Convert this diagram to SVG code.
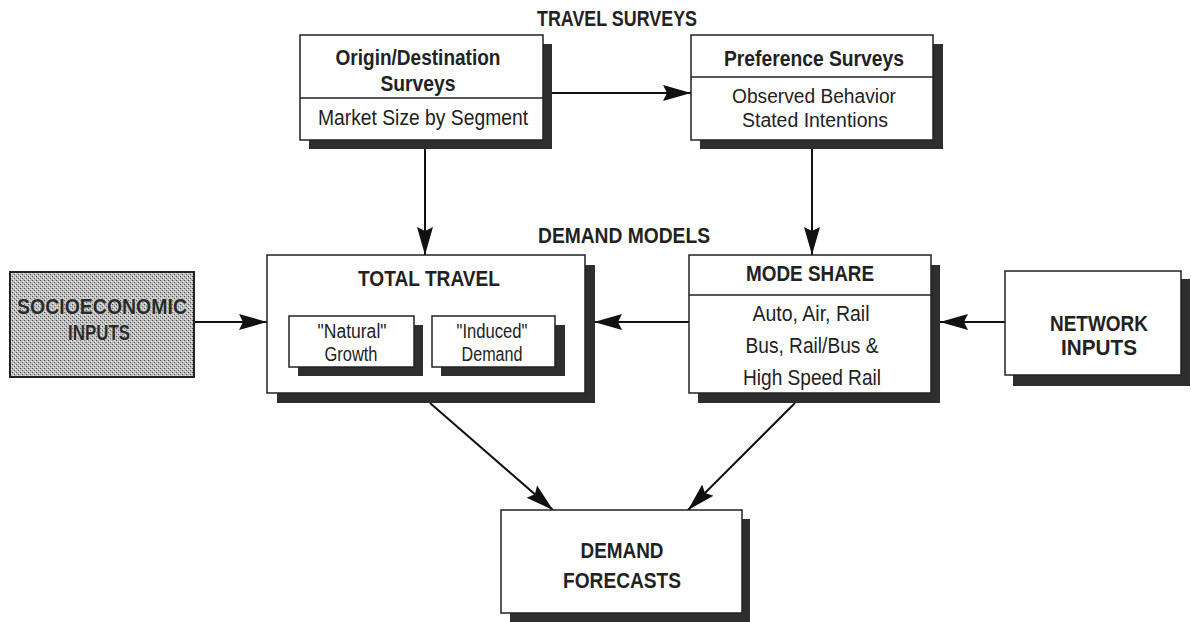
<svg xmlns="http://www.w3.org/2000/svg" width="1191" height="622" viewBox="0 0 1191 622">
<style>
text{font-family:"Liberation Sans",Arial,sans-serif;fill:#222;text-anchor:middle;font-size:22px}
.b{font-weight:bold}
.box{fill:#fff;stroke:#222;stroke-width:1.5}
.sh{fill:#2e2e2e}
.ln{stroke:#111;stroke-width:2;fill:none}
.dv{stroke:#222;stroke-width:1.5}
.so{fill:#2a2a2a;stroke:#e0e0e0;stroke-width:1;paint-order:stroke;font-size:22px}
.sm{font-size:20px}
</style>
<defs>
<marker id="ah" markerWidth="28" markerHeight="18" refX="28" refY="9" orient="auto" markerUnits="userSpaceOnUse">
<path d="M0,1 L28,9 L0,17 L4,9 Z" fill="#111"/>
</marker>
<pattern id="dots" width="4" height="4" patternUnits="userSpaceOnUse">
<rect width="4" height="4" fill="#bdbdbd"/>
<rect x="0" y="0" width="1" height="1" fill="#4a4a4a"/>
<rect x="2" y="2" width="1" height="1" fill="#5a5a5a"/>
<rect x="3" y="1" width="1" height="1" fill="#eee"/>
<rect x="1" y="3" width="1" height="1" fill="#eee"/>
</pattern>
</defs>

<text class="b" x="617" y="26" textLength="160" lengthAdjust="spacingAndGlyphs">TRAVEL SURVEYS</text>
<text class="b" x="624" y="243" textLength="172" lengthAdjust="spacingAndGlyphs">DEMAND MODELS</text>

<g id="connectors">
<line class="ln" x1="552" y1="93" x2="691" y2="93" marker-end="url(#ah)"/>
<line class="ln" x1="425" y1="149" x2="425" y2="255" marker-end="url(#ah)"/>
<line class="ln" x1="812" y1="140" x2="812" y2="255" marker-end="url(#ah)"/>
<line class="ln" x1="194" y1="322" x2="267" y2="322" marker-end="url(#ah)"/>
<line class="ln" x1="689" y1="322" x2="594" y2="322" marker-end="url(#ah)"/>
<line class="ln" x1="1005" y1="322" x2="940" y2="322" marker-end="url(#ah)"/>
<line class="ln" x1="430" y1="403" x2="553" y2="510" marker-end="url(#ah)"/>
<line class="ln" x1="795" y1="403" x2="688" y2="510" marker-end="url(#ah)"/>
</g>

<g id="od">
<rect class="sh" x="309" y="44" width="243" height="105"/>
<rect class="box" x="300" y="35" width="243" height="105"/>
<line class="dv" x1="300" y1="98" x2="543" y2="98"/>
<text class="b" x="418" y="65" textLength="165" lengthAdjust="spacingAndGlyphs">Origin/Destination</text>
<text class="b" x="418" y="91" textLength="75" lengthAdjust="spacingAndGlyphs">Surveys</text>
<text x="423" y="125" textLength="210" lengthAdjust="spacingAndGlyphs">Market Size by Segment</text>
</g>

<g id="pref">
<rect class="sh" x="700" y="44" width="243" height="105"/>
<rect class="box" x="691" y="35" width="242" height="105"/>
<line class="dv" x1="691" y1="77" x2="933" y2="77"/>
<text class="b" x="814" y="66" textLength="180" lengthAdjust="spacingAndGlyphs">Preference Surveys</text>
<text class="sm" x="814" y="103" textLength="164" lengthAdjust="spacingAndGlyphs">Observed Behavior</text>
<text class="sm" x="815" y="127" textLength="146" lengthAdjust="spacingAndGlyphs">Stated Intentions</text>
</g>

<g id="socio">
<rect x="10" y="272" width="184" height="105" fill="url(#dots)" stroke="#222" stroke-width="2"/>
<text class="b so" x="102" y="314" textLength="170" lengthAdjust="spacingAndGlyphs">SOCIOECONOMIC</text>
<text class="b so" x="99" y="340" textLength="62" lengthAdjust="spacingAndGlyphs">INPUTS</text>
</g>

<g id="total">
<rect class="sh" x="277" y="265" width="318" height="138"/>
<rect class="box" x="267" y="255" width="318" height="138"/>
<text class="b" x="429" y="286" textLength="142" lengthAdjust="spacingAndGlyphs">TOTAL TRAVEL</text>
<rect class="sh" x="298" y="325" width="125" height="51"/>
<rect class="box" x="289" y="316" width="125" height="51"/>
<text class="sm" x="352" y="338" textLength="69" lengthAdjust="spacingAndGlyphs">"Natural"</text>
<text class="sm" x="351" y="361" textLength="53" lengthAdjust="spacingAndGlyphs">Growth</text>
<rect class="sh" x="441" y="325" width="124" height="51"/>
<rect class="box" x="432" y="316" width="123" height="51"/>
<text class="sm" x="492" y="338" textLength="71" lengthAdjust="spacingAndGlyphs">"Induced"</text>
<text class="sm" x="492" y="361" textLength="61" lengthAdjust="spacingAndGlyphs">Demand</text>
</g>

<g id="mode">
<rect class="sh" x="698" y="265" width="242" height="138"/>
<rect class="box" x="689" y="255" width="242" height="138"/>
<line class="dv" x1="689" y1="295" x2="931" y2="295"/>
<text class="b" x="810" y="281" textLength="128" lengthAdjust="spacingAndGlyphs">MODE SHARE</text>
<text x="811" y="321" textLength="117" lengthAdjust="spacingAndGlyphs">Auto, Air, Rail</text>
<text x="812" y="353" textLength="133" lengthAdjust="spacingAndGlyphs">Bus, Rail/Bus &amp;</text>
<text x="812" y="385" textLength="138" lengthAdjust="spacingAndGlyphs">High Speed Rail</text>
</g>

<g id="network">
<rect class="sh" x="1013" y="279" width="177" height="107"/>
<rect class="box" x="1005" y="271" width="176" height="104"/>
<text class="b" x="1099" y="331" textLength="98" lengthAdjust="spacingAndGlyphs">NETWORK</text>
<text class="b" x="1099" y="355" textLength="76" lengthAdjust="spacingAndGlyphs">INPUTS</text>
</g>

<g id="forecasts">
<rect class="sh" x="510" y="519" width="240" height="103"/>
<rect class="box" x="501" y="510" width="241" height="103"/>
<text class="b" x="622" y="558" textLength="83" lengthAdjust="spacingAndGlyphs">DEMAND</text>
<text class="b" x="622" y="588" textLength="118" lengthAdjust="spacingAndGlyphs">FORECASTS</text>
</g>
</svg>
